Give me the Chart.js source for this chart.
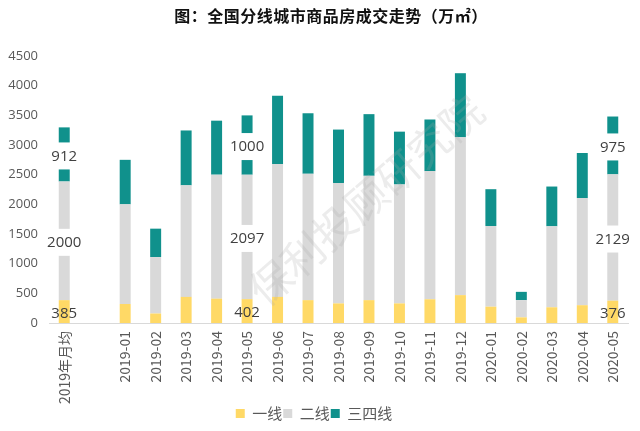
<!DOCTYPE html>
<html>
<head>
<meta charset="utf-8">
<script src="https://cdn.jsdelivr.net/npm/chart.js@4"></script>
<style>
  body { margin: 0; background: #fff; }
  #box { width: 640px; height: 431px; }
</style>
</head>
<body>
<div id="box"><canvas id="grafico" width="640" height="431"></canvas></div>
<script>
// Dados
const categorias = ["2019年月均", "", "2019-01", "2019-02", "2019-03", "2019-04", "2019-05", "2019-06",
    "2019-07", "2019-08", "2019-09", "2019-10", "2019-11", "2019-12", "2020-01", "2020-02",
    "2020-03", "2020-04", "2020-05"];
const yixian = [385, null, 320, 160, 440, 410, 402, 440, 385, 330, 385, 330, 400, 470, 275, 95, 265, 300, 376];
const erxian = [2000, null, 1680, 950, 1880, 2090, 2097, 2240, 2130, 2030, 2095, 2005, 2160, 2660, 1360, 290, 1365, 1805, 2129];
const sansixian = [912, null, 750, 480, 925, 910, 1000, 1150, 1020, 900, 1040, 890, 870, 1080, 620, 140, 670, 760, 975];
const comRotulo = [0, 6, 18]; // barras com valores escritos

const cinza = "#595959";

// título, rótulos de valor com fundo branco e marca d'água
const extras = {
    id: "extras",
    afterDatasetsDraw(chart) {
        const ctx = chart.ctx;
        ctx.save();
        ctx.font = "15px 'Open Sans', 'Noto Sans'";
        ctx.textAlign = "center";
        ctx.textBaseline = "middle";
        chart.data.datasets.forEach((ds, d) => {
            const meta = chart.getDatasetMeta(d);
            comRotulo.forEach(i => {
                const bar = meta.data[i];
                const cy = (bar.y + bar.base) / 2 + 2;
                const txt = String(ds.data[i]);
                if (d > 0) {
                    const w = ctx.measureText(txt).width + 4;
                    ctx.fillStyle = "#fff";
                    ctx.fillRect(bar.x - w / 2, cy - 14, w, 27);
                }
                ctx.fillStyle = "#404040";
                ctx.fillText(txt, bar.x, cy);
            });
        });
        ctx.restore();
    },
    afterDraw(chart) {
        const ctx = chart.ctx;
        ctx.save();
        ctx.font = "bold 16px 'Noto Sans CJK SC'";
        ctx.letterSpacing = "0.5px";
        ctx.fillStyle = "#111";
        ctx.textAlign = "center";
        ctx.textBaseline = "middle";
        ctx.fillText("图：全国分线城市商品房成交走势（万㎡）", 331, 16);
        ctx.letterSpacing = "0px";

        ctx.translate(366, 200);
        ctx.rotate(-41 * Math.PI / 180);
        ctx.font = "42px 'Noto Sans CJK SC'";
        ctx.fillStyle = "rgba(170,170,170,0.22)";
        ctx.fillText("保利投顾研究院", 0, 0);
        ctx.restore();
    }
};

new Chart(document.getElementById("grafico"), {
    type: "bar",
    data: {
        labels: categorias,
        datasets: [
            { label: "一线", data: yixian, backgroundColor: "#FFD966" },
            { label: "二线", data: erxian, backgroundColor: "#D9D9D9" },
            { label: "三四线", data: sansixian, backgroundColor: "#10918C" }
        ]
    },
    options: {
        responsive: false,
        animation: false,
        layout: { padding: { left: 0, right: 12, top: 56, bottom: 0 } },
        datasets: { bar: { barPercentage: 0.36, categoryPercentage: 1 } },
        scales: {
            x: {
                stacked: true,
                grid: { display: false, drawTicks: false },
                border: { color: "#D9D9D9" },
                ticks: {
                    color: cinza,
                    font: { size: 14, family: "'Noto Sans CJK SC'" },
                    maxRotation: 90, minRotation: 90,
                    autoSkip: false, padding: 8
                },
                afterFit(scale) { scale.height = 82; }
            },
            y: {
                stacked: true,
                min: 0, max: 4500,
                grid: { display: false, drawTicks: false },
                border: { display: false },
                ticks: {
                    stepSize: 500,
                    color: cinza,
                    font: { size: 13, family: "'Open Sans'" },
                    padding: 11,
                    callback: v => String(v)
                },
                afterFit(scale) { scale.width = 49; }
            }
        },
        plugins: {
            title: { display: false },
            legend: {
                position: "bottom",
                labels: {
                    color: cinza,
                    boxWidth: 9, boxHeight: 9,
                    font: { size: 15, family: "'Noto Sans CJK SC'" },
                    padding: 1
                }
            },
            tooltip: { enabled: false }
        }
    },
    plugins: [extras]
});
</script>
</body>
</html>
